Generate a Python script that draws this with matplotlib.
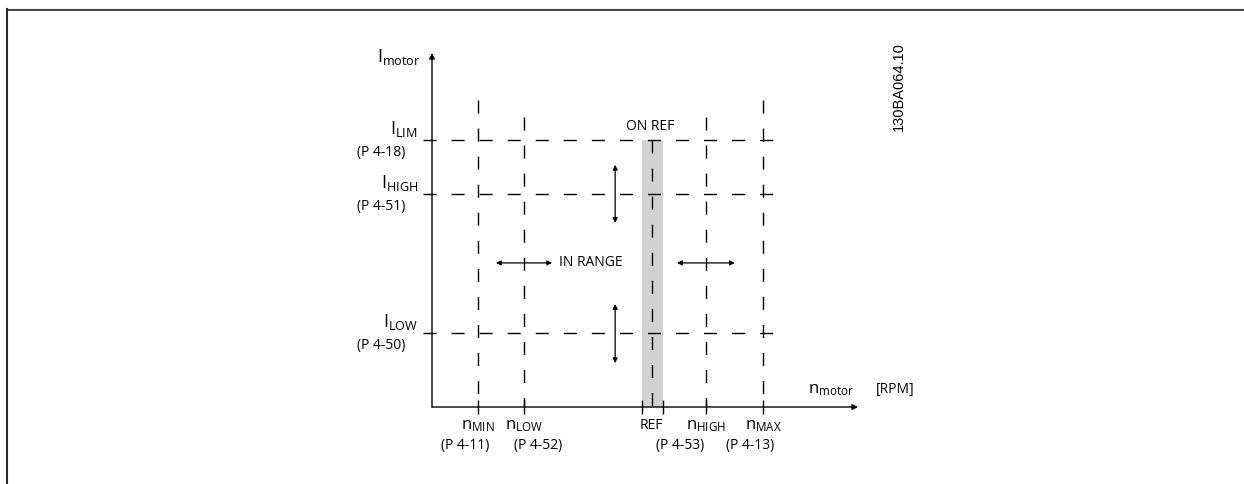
import matplotlib.pyplot as plt
from matplotlib.lines import Line2D

plt.rcParams['font.family'] = ['Open Sans', 'DejaVu Sans']
plt.rcParams['lines.scale_dashes'] = False

# speed levels (schematic units, 0..100 along the n axis)
speed_labels = ['MIN', 'LOW', 'REF', 'HIGH', 'MAX']
speed_pos = [10.8, 21.6, 51.6, 64.3, 77.7]
speed_top = [86.7, 81.9, 75.4, 81.9, 86.7]
speed_params = ['(P 4-11)', '(P 4-52)', '(P 4-53)', '(P 4-13)']
speed_param_x = [7.7, 24.9, 58.2, 74.6]
ref_band = [49.3, 54.2]

# current levels (schematic units, 0..100 along the I axis)
current_labels = ['LIM', 'HIGH', 'LOW']
current_pos = [75.4, 60.2, 20.9]
current_params = ['(P 4-18)', '(P 4-51)', '(P 4-50)']

FS = 10
SUB_FS = 13
DASH = (9.4, 10.8)


def dbl_arrow(ax, p0, p1):
    ax.annotate('', xy=p1, xytext=p0, xycoords='data',
                arrowprops=dict(arrowstyle='<|-|>', mutation_scale=7, lw=0.9,
                                color='black', shrinkA=0, shrinkB=0),
                annotation_clip=False)


def main():
    fig = plt.figure(figsize=(12.44, 4.84), dpi=100)
    ax = fig.add_axes([432 / 1244, 77 / 484, 426 / 1244, 354 / 484])
    ax.set_xlim(0, 100)
    ax.set_ylim(0, 100)
    for s in ax.spines.values():
        s.set_visible(False)
    ax.set_yticks([])
    ax.set_xticks([speed_pos[0], speed_pos[1], ref_band[0], ref_band[1], speed_pos[3], speed_pos[4]])
    ax.set_xticklabels([])
    ax.tick_params(axis='x', direction='inout', length=10, width=1, color='black')

    # axes with arrows
    ax.annotate('', xy=(100, 0), xytext=(0, 0),
                arrowprops=dict(arrowstyle='-|>', mutation_scale=8, lw=1, color='black', shrinkA=0, shrinkB=0))
    ax.annotate('', xy=(0, 100), xytext=(0, 0),
                arrowprops=dict(arrowstyle='-|>', mutation_scale=8, lw=1, color='black', shrinkA=0, shrinkB=0))

    # ON REF band
    ax.axvspan(ref_band[0], ref_band[1], ymin=0, ymax=current_pos[0] / 100, color='#d2d2d2', lw=0, zorder=0)

    # horizontal dashed current levels
    for y, lab, par in zip(current_pos, current_labels, current_params):
        ax.plot([-2.1, 82.5], [y, y], color='black', lw=1, dashes=DASH, clip_on=False)
        ax.text(-3.3, y + 1.7, r'$\mathregular{I_{%s}}$' % lab, ha='right', va='baseline', fontsize=SUB_FS)
        ax.text(-6.3, y - 3.6, par, ha='right', va='center', fontsize=FS)

    # vertical dashed speed levels
    for x, top, lab in zip(speed_pos, speed_top, speed_labels):
        ax.plot([x, x], [top, 0], color='black', lw=1, dashes=DASH)
        if lab == 'REF':
            ax.text(x, -6.2, 'REF', ha='center', va='baseline', fontsize=FS)
        else:
            ax.text(x, -6.2, r'$\mathregular{n_{%s}}$' % lab, ha='center', va='baseline', fontsize=SUB_FS - 1)
    for x, par in zip(speed_param_x, speed_params):
        ax.text(x, -11.0, par, ha='center', va='center', fontsize=FS)

    # range arrows
    dbl_arrow(ax, (15.0, 40.7), (28.2, 40.7))
    dbl_arrow(ax, (57.5, 40.7), (71.1, 40.7))
    dbl_arrow(ax, (43.0, 68.4), (43.0, 52.0))
    dbl_arrow(ax, (43.0, 29.1), (43.0, 12.4))

    ax.text(29.8, 40.7, 'IN RANGE', ha='left', va='center', fontsize=FS)
    ax.text(51.2, 79.1, 'ON REF', ha='center', va='center', fontsize=FS)

    ax.text(-2.8, 97.5, r'$\mathregular{I_{motor}}$', ha='right', va='baseline', fontsize=SUB_FS)
    ax.text(88.3, 4.0, r'$\mathregular{n_{motor}}$', ha='left', va='baseline', fontsize=SUB_FS - 1, clip_on=False)
    ax.text(104.2, 4.0, '[RPM]', ha='left', va='baseline', fontsize=FS, clip_on=False)
    ax.text(109.6, 90.4, '130BA064.10', rotation=90, ha='center', va='center',
            fontsize=10.5, family='Liberation Sans', clip_on=False)

    # page frame
    fig.add_artist(Line2D([7 / 1244, 1], [1 - 9 / 484, 1 - 9 / 484], color='#bbbbbb', lw=1, transform=fig.transFigure))
    fig.add_artist(Line2D([7 / 1244, 1], [1 - 9.8 / 484, 1 - 9.8 / 484], color='#2b2b2b', lw=1.2, transform=fig.transFigure))
    fig.add_artist(Line2D([7 / 1244, 7 / 1244], [0, 1 - 9 / 484], color='#2b2b2b', lw=1.5, transform=fig.transFigure))

    fig.savefig('out.png', dpi=100)


if __name__ == '__main__':
    main()
